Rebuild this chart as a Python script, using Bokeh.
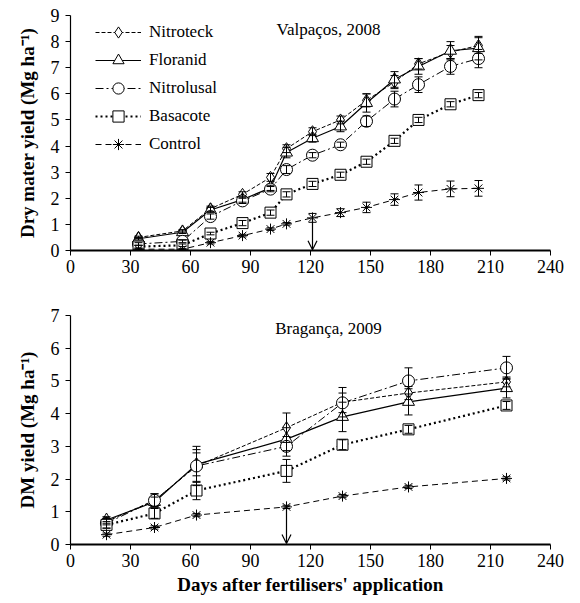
from bokeh.plotting import figure
from bokeh.layouts import column
from bokeh.models import (Legend, LegendItem, Whisker, Arrow, OpenHead, TeeHead,
                          ColumnDataSource, Label, FixedTicker, Range1d)
from bokeh.embed import file_html
from bokeh.resources import INLINE

FONT = "'Liberation Serif', 'Times New Roman', serif"

# ---------------- data: Valpaços 2008 ----------------
days_2008 = [34, 56, 70, 86, 100, 108, 121, 135, 148, 162, 174, 190, 204]
nitroteck_2008 = [0.50, 0.75, 1.60, 2.15, 2.80, 3.90, 4.55, 5.00, 5.75, 6.45, 7.15, 7.60, 7.85]
floranid_2008 = [0.45, 0.70, 1.55, 1.95, 2.40, 3.75, 4.30, 4.75, 5.65, 6.55, 7.05, 7.65, 7.75]
nitrolusal_2008 = [0.25, 0.35, 1.30, 1.90, 2.35, 3.10, 3.65, 4.05, 4.95, 5.80, 6.35, 7.05, 7.35]
basacote_2008 = [0.15, 0.20, 0.65, 1.05, 1.45, 2.15, 2.55, 2.90, 3.40, 4.20, 5.00, 5.60, 5.95]
control_2008 = [0.05, 0.05, 0.30, 0.57, 0.82, 1.02, 1.25, 1.45, 1.65, 1.95, 2.22, 2.36, 2.38]
err_nitroteck_2008 = [0.05, 0.05, 0.10, 0.10, 0.15, 0.15, 0.15, 0.15, 0.25, 0.25, 0.20, 0.25, 0.30]
err_floranid_2008 = [0.05, 0.05, 0.10, 0.10, 0.10, 0.20, 0.15, 0.20, 0.35, 0.30, 0.30, 0.35, 0.45]
err_nitrolusal_2008 = [0.05, 0.05, 0.10, 0.10, 0.10, 0.15, 0.10, 0.10, 0.20, 0.30, 0.30, 0.30, 0.35]
err_basacote_2008 = [0.05, 0.05, 0.05, 0.10, 0.10, 0.10, 0.10, 0.10, 0.10, 0.10, 0.10, 0.10, 0.10]
err_control_2008 = [0.02, 0.02, 0.05, 0.05, 0.05, 0.05, 0.17, 0.15, 0.20, 0.22, 0.29, 0.30, 0.30]

# ---------------- data: Bragança 2009 ----------------
days_2009 = [18, 42, 63, 108, 136, 169, 218]
nitroteck_2009 = [0.70, 1.35, 2.40, 3.57, 4.35, 4.63, 4.97]
floranid_2009 = [0.75, 1.30, 2.45, 3.22, 3.90, 4.36, 4.78]
nitrolusal_2009 = [0.65, 1.35, 2.40, 3.00, 4.33, 5.00, 5.40]
basacote_2009 = [0.60, 0.95, 1.65, 2.25, 3.05, 3.52, 4.25]
control_2009 = [0.30, 0.52, 0.90, 1.15, 1.48, 1.76, 2.02]
err_nitroteck_2009 = [0.10, 0.20, 0.60, 0.45, 0.45, 0.20, 0.15]
err_floranid_2009 = [0.10, 0.15, 0.35, 0.35, 0.45, 0.40, 0.30]
err_nitrolusal_2009 = [0.15, 0.20, 0.50, 0.30, 0.30, 0.40, 0.35]
err_basacote_2009 = [0.10, 0.15, 0.28, 0.35, 0.15, 0.12, 0.12]
err_control_2009 = [0.05, 0.05, 0.05, 0.05, 0.05, 0.05, 0.05]

series_names = ["Nitroteck", "Floranid", "Nitrolusal", "Basacote", "Control"]
x_ticks = [0, 30, 60, 90, 120, 150, 180, 210, 240]

STYLES = {
    "Nitroteck": dict(marker="diamond", dash="4 2", lw=1.0, size=12),
    "Floranid": dict(marker="triangle", dash="solid", lw=1.2, size=12),
    "Nitrolusal": dict(marker="circle", dash="8 3 2 3", lw=1.0, size=12),
    "Basacote": dict(marker="square", dash="2 3", lw=2.2, size=11),
    "Control": dict(marker="asterisk", dash="6 4", lw=1.0, size=11),
}


def make_fig(height, top, bottom, ymax, days, data, errs, xlabel, ylabel,
             title, title_y, arrow_x, arrow_y, legend):
    p = figure(width=564, height=height, output_backend="svg", toolbar_location=None,
               x_range=Range1d(0, 240), y_range=Range1d(0, ymax),
               min_border_left=70, min_border_right=14,
               min_border_top=top, min_border_bottom=bottom)
    p.outline_line_color = None
    p.xgrid.visible = False
    p.ygrid.visible = False
    p.background_fill_color = "white"

    items = []
    for name, vals, err in zip(series_names, data, errs):
        st = STYLES[name]
        src = ColumnDataSource(dict(x=days, y=vals,
                                    lo=[v - e for v, e in zip(vals, err)],
                                    hi=[v + e for v, e in zip(vals, err)]))
        ln = p.line("x", "y", source=src, line_color="black", line_width=st["lw"],
                    line_dash=st["dash"])
        mk = p.scatter("x", "y", source=src, marker=st["marker"], size=st["size"],
                       fill_color="white", line_color="black", line_width=1.0)
        w = Whisker(source=src, base="x", lower="lo", upper="hi",
                    line_color="black", line_width=1.0, level="overlay",
                    upper_head=TeeHead(size=8, line_color="black", line_width=1.0),
                    lower_head=TeeHead(size=8, line_color="black", line_width=1.0))
        p.add_layout(w)
        items.append(LegendItem(label=name, renderers=[ln, mk]))

    if legend:
        leg = Legend(items=items, location=(25, 92), orientation="vertical",
                     border_line_color=None, background_fill_alpha=0,
                     padding=0, margin=0, spacing=0,
                     glyph_width=46, glyph_height=28, label_height=28,
                     label_standoff=8, label_text_font=FONT,
                     label_text_font_size="17px", label_text_color="black")
        p.add_layout(leg, "center")

    p.add_layout(Label(x=129, y=title_y, text=title, text_font=FONT,
                       text_font_size="17px", text_align="center",
                       text_baseline="middle", text_color="black"))

    p.add_layout(Arrow(x_start=arrow_x, y_start=arrow_y, x_end=arrow_x, y_end=0.03,
                       line_color="black", line_width=1.2,
                       end=OpenHead(size=9, line_color="black", line_width=1.2)))

    for ax in (p.xaxis[0], p.yaxis[0]):
        ax.axis_line_color = "black"
        ax.major_tick_line_color = "black"
        ax.major_tick_in = 0
        ax.major_tick_out = 5
        ax.minor_tick_line_color = None
        ax.major_label_text_font = FONT
        ax.major_label_text_font_size = "18px"
        ax.major_label_text_color = "black"
        ax.axis_label_text_font = FONT
        ax.axis_label_text_font_size = "19px"
        ax.axis_label_text_font_style = "bold"
        ax.axis_label_text_color = "black"
    p.xaxis.axis_line_width = 2
    p.yaxis.axis_line_width = 1.2
    p.xaxis.major_label_standoff = 4
    p.yaxis.major_label_standoff = 6
    p.xaxis.ticker = FixedTicker(ticks=x_ticks)
    p.yaxis.ticker = FixedTicker(ticks=list(range(0, ymax + 1)))
    p.yaxis.axis_label = ylabel
    p.yaxis.axis_label_standoff = 10
    if xlabel:
        p.xaxis.axis_label = xlabel
        p.xaxis.axis_label_standoff = 4
    return p


p1 = make_fig(298, 15, 48, 9, days_2008,
              [nitroteck_2008, floranid_2008, nitrolusal_2008, basacote_2008, control_2008],
              [err_nitroteck_2008, err_floranid_2008, err_nitrolusal_2008,
               err_basacote_2008, err_control_2008],
              None, "Dry mater yield (Mg ha\u207b\u00b9)", "Valpaços, 2008", 8.45,
              121, 1.2, True)
p2 = make_fig(299, 17, 52, 7, days_2009,
              [nitroteck_2009, floranid_2009, nitrolusal_2009, basacote_2009, control_2009],
              [err_nitroteck_2009, err_floranid_2009, err_nitrolusal_2009,
               err_basacote_2009, err_control_2009],
              "Days after fertilisers' application", "DM yield (Mg ha\u207b\u00b9)",
              "Bragança, 2009", 6.6, 108, 1.1, False)

layout = column(p1, p2, spacing=0)
open("out.html", "w").write(file_html(layout, INLINE))
